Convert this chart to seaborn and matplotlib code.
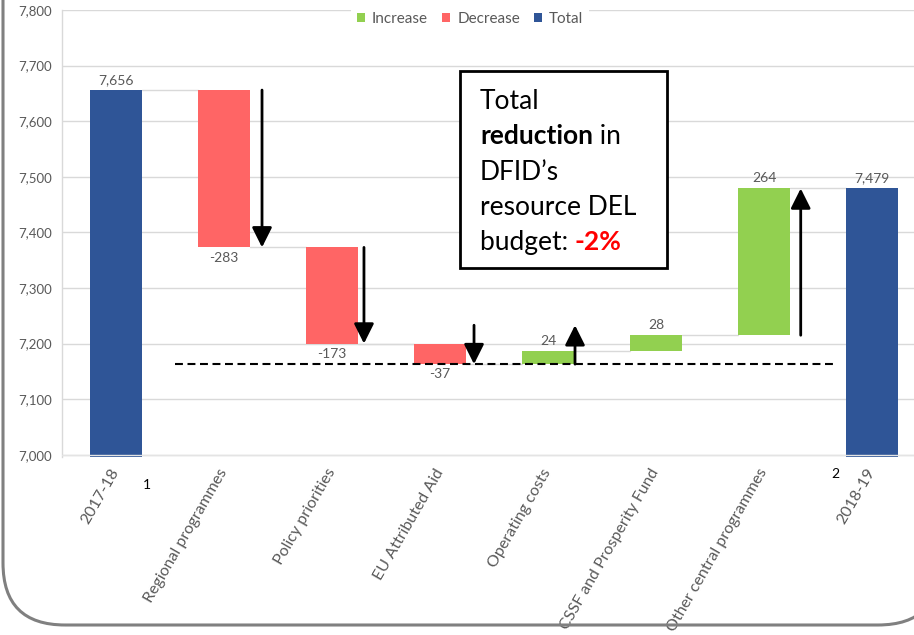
import numpy as np
import pandas as pd
import matplotlib
matplotlib.use("Agg")
import matplotlib.pyplot as plt
from matplotlib.patches import Patch, Rectangle, FancyBboxPatch
from matplotlib.transforms import IdentityTransform
import seaborn as sns

# ---- data -------------------------------------------------------------
categories = ["2017-18", "Regional programmes", "Policy priorities",
              "EU Attributed Aid", "Operating costs",
              "CSSF and Prosperity Fund", "Other central programmes", "2018-19"]
values = [7656, -283, -173, -37, 24, 28, 264, 7479]
kinds = ["Total", "Decrease", "Decrease", "Decrease",
         "Increase", "Increase", "Increase", "Total"]
value_labels = ["7,656", "-283", "-173", "-37", "24", "28", "264", "7,479"]
y_ticks = [7000, 7100, 7200, 7300, 7400, 7500, 7600, 7700, 7800]
y_tick_labels = ["7,000", "7,100", "7,200", "7,300", "7,400",
                 "7,500", "7,600", "7,700", "7,800"]
legend_order = ["Increase", "Decrease", "Total"]
palette = {"Increase": "#92D050", "Decrease": "#FF6565", "Total": "#2F5597"}

# ---- waterfall geometry ----------------------------------------------
bottoms, heights, starts, ends = [], [], [], []
running = 0
for v, k in zip(values, kinds):
    if k == "Total":
        bottoms.append(0)
        heights.append(v)
        starts.append(0)
        ends.append(v)
        running = v
    else:
        bottoms.append(running)
        heights.append(v)
        starts.append(running)
        running += v
        ends.append(running)

df = pd.DataFrame({"category": categories, "height": heights,
                   "bottom": bottoms, "kind": kinds})

sns.set_style("white")
plt.rcParams["font.family"] = ["Lato", "DejaVu Sans"]
GREY_TXT = "#595959"
GRID = "#D9D9D9"

fig = plt.figure(figsize=(9.14, 6.35), dpi=100)
W, H = 914, 635
ax = fig.add_axes([62 / W, 1 - 457 / H, 864 / W, 447 / H])

BAR_W = 0.48
sns.barplot(data=df, x="category", y="height", bottom=df["bottom"].to_numpy(),
            color=palette["Total"], width=BAR_W, errorbar=None,
            saturation=1, ax=ax, zorder=2)
for patch, k in zip(ax.patches, kinds):
    patch.set_facecolor(palette[k])
    patch.set_edgecolor("none")

ax.set_xlim(-0.5, len(categories) - 0.5)
ax.set_ylim(6996, 7800)
ax.set_yticks(y_ticks)
ax.set_yticklabels(y_tick_labels)
ax.set_xlabel("")
ax.set_ylabel("")

ax.yaxis.grid(True, color=GRID, lw=1)
ax.set_axisbelow(True)
ax.axhline(7000, color="#E4E4E4", lw=1, zorder=3)
for s in ["top", "right", "bottom"]:
    ax.spines[s].set_visible(False)
ax.spines["left"].set_color(GRID)
ax.spines["left"].set_linewidth(1)

ax.tick_params(axis="y", length=0, pad=7, labelsize=9.5, labelcolor=GREY_TXT)
ax.tick_params(axis="x", length=0, pad=9, labelsize=11.5, labelcolor=GREY_TXT)
for lbl in ax.get_xticklabels():
    lbl.set_rotation(60)
    lbl.set_ha("right")
    lbl.set_va("center")
    lbl.set_rotation_mode("anchor")

# connector lines between consecutive bars
for i in range(len(categories) - 1):
    ax.plot([i + BAR_W / 2, i + 1 - BAR_W / 2], [ends[i], ends[i]],
            color=GRID, lw=1, zorder=1)

# value labels
for i, (lab, k) in enumerate(zip(value_labels, kinds)):
    if k == "Decrease":
        ax.annotate(lab, (i, ends[i]), xytext=(0, -3), textcoords="offset points",
                    ha="center", va="top", fontsize=10, color=GREY_TXT)
    else:
        ax.annotate(lab, (i, max(starts[i], ends[i])), xytext=(0, 3),
                    textcoords="offset points", ha="center", va="bottom",
                    fontsize=10, color=GREY_TXT)

# direction arrows beside each change bar
arrow_dx = {1: 0.352, 2: 0.296, 3: 0.315, 4: 0.25, 6: 0.34}
for i, dx in arrow_dx.items():
    s, e = starts[i], ends[i]
    if abs(e - s) < 60:
        if e < s:
            s = e + 70
        else:
            e = s + 70
    ax.annotate("", xy=(i + dx, e), xytext=(i + dx, s),
                arrowprops=dict(arrowstyle="-|>,head_length=1.1,head_width=0.55",
                                color="black", lw=2, mutation_scale=11,
                                shrinkA=0, shrinkB=0),
                zorder=4)

# dashed reference at the lowest running total
low = min(ends[1:-1])
ax.plot([0.55, 6.65], [low, low], color="black", lw=1.5,
        ls=(0, (3.8, 2.2)), zorder=4)

# callout box
ax.add_patch(Rectangle((460, H - 268), 207, 197, transform=IdentityTransform(),
                       fill=True, facecolor="white", edgecolor="black",
                       lw=2, zorder=5))
box_font = dict(fontsize=19, color="black", zorder=6)
x0 = 480
baselines = [109, 144, 180, 215, 250]
fig.text(x0 / W, 1 - baselines[0] / H, "Total", va="baseline", **box_font)
fig.canvas.draw()
renderer = fig.canvas.get_renderer()


def run_text(x_px, y_px, parts):
    """Draw a line made of differently styled pieces, left to right."""
    for txt, style in parts:
        t = fig.text(x_px / W, 1 - y_px / H, txt, va="baseline",
                     **{**box_font, **style})
        bb = t.get_window_extent(renderer)
        x_px = bb.x1


run_text(x0, baselines[1], [("reduction", {"fontweight": "bold"}), (" in", {})])
run_text(x0, baselines[2], [("DFID\u2019s", {})])
run_text(x0, baselines[3], [("resource DEL", {})])
run_text(x0, baselines[4], [("budget: ", {}),
                            ("-2%", {"fontweight": "bold", "color": "#FF0000"})])

# legend
handles = [Patch(facecolor=palette[k], edgecolor="none", label=k) for k in legend_order]
leg = fig.legend(handles=handles, loc="center", bbox_to_anchor=(470 / W, 1 - 19 / H),
                 ncol=3, frameon=True, facecolor="white", edgecolor="none",
                 framealpha=1, fontsize=11, handlelength=0.55, handleheight=0.55,
                 handletextpad=0.45, columnspacing=0.9, borderpad=0.4)
for t in leg.get_texts():
    t.set_color(GREY_TXT)

# footnote markers
fig.text(147 / W, 1 - 485 / H, "1", ha="center", va="center", fontsize=10, color="black")
fig.text(835 / W, 1 - 474 / H, "2", ha="center", va="center", fontsize=10, color="black")

# rounded panel frame (top and right edges run past the canvas)
frame = FancyBboxPatch((3, H - 625), 937, 2000,
                       boxstyle="round,pad=0,rounding_size=62",
                       transform=IdentityTransform(), fill=False,
                       edgecolor="#808080", lw=2.2)
fig.add_artist(frame)

fig.savefig("out.png", dpi=100)
